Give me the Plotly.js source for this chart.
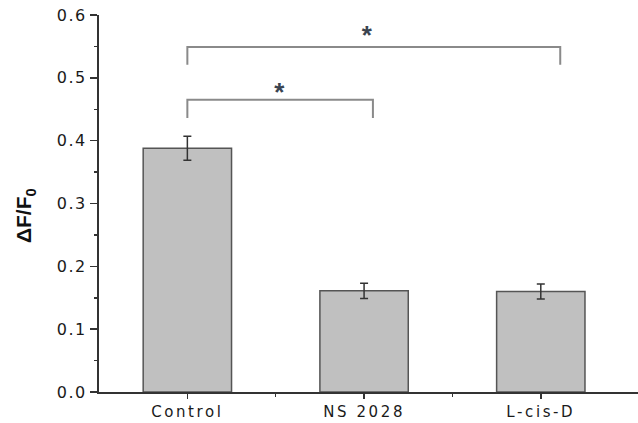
<!DOCTYPE html>
<html>
<head>
<meta charset="utf-8">
<script src="https://cdn.plot.ly/plotly-3.0.1.min.js"></script>
<style>
html,body{margin:0;padding:0;background:#fff;}
#chart{width:638px;height:423px;}
.xtick text{letter-spacing:2.6px;}
.ytick text{letter-spacing:1.5px;}
</style>
</head>
<body>
<div id="chart"></div>
<script>
const categories = ['Control', 'NS 2028', 'L-cis-D'];
const catPos = [0, 1, 2];
const values = [0.388, 0.161, 0.160];
const errors = [0.019, 0.012, 0.012];

const bracketLowX = [0, 0, 1.05, 1.05];
const bracketLowY = [0.436, 0.465, 0.465, 0.436];
const bracketHighX = [0, 0, 2.11, 2.11];
const bracketHighY = [0.521, 0.549, 0.549, 0.521];

const starX = [0.52, 1.015];
const starY = [0.474, 0.565];
const starText = ['*', '*'];

const yTickVals = [0, 0.1, 0.2, 0.3, 0.4, 0.5, 0.6];
const yTickText = ['0.0', '0.1', '0.2', '0.3', '0.4', '0.5', '0.6'];
const yTitle = '<b>ΔF/F<sub>0</sub></b>';

const tickFamily = 'DejaVu Sans, Liberation Sans, Arial, sans-serif';

const traces = [
  {
    type: 'bar', x: catPos, y: values, width: 0.5,
    marker: {color: '#c0c0c0', line: {color: '#555555', width: 1.5}},
    error_y: {type: 'data', array: errors, visible: true, color: '#333333', thickness: 1.5, width: 4},
    hoverinfo: 'skip'
  },
  {
    type: 'scatter', mode: 'lines', x: bracketLowX, y: bracketLowY,
    line: {color: '#8a8a8a', width: 2}, hoverinfo: 'skip'
  },
  {
    type: 'scatter', mode: 'lines', x: bracketHighX, y: bracketHighY,
    line: {color: '#8a8a8a', width: 2}, hoverinfo: 'skip'
  },
  {
    type: 'scatter', mode: 'text', x: starX, y: starY, text: starText,
    textposition: 'middle center',
    textfont: {family: 'Liberation Sans, Arial, sans-serif', size: 26, color: '#3a4450', weight: 'bold'},
    hoverinfo: 'skip'
  }
];

const layout = {
  width: 638, height: 423,
  margin: {l: 99, r: 0, t: 15, b: 31},
  paper_bgcolor: '#ffffff', plot_bgcolor: '#ffffff',
  showlegend: false,
  font: {family: 'Liberation Sans, Arial, sans-serif', color: '#1a1a1a'},
  xaxis: {
    range: [-0.5, 2.55],
    tickmode: 'array', tickvals: catPos, ticktext: categories,
    ticks: 'outside', ticklen: 5, tickwidth: 1.5, tickcolor: '#333',
    showline: true, linecolor: '#333', linewidth: 2,
    showgrid: false, zeroline: false,
    tickfont: {family: tickFamily, size: 15, color: '#1a1a1a'},
    minor: {tickvals: [0.5, 1.5], ticks: 'outside', ticklen: 3, tickwidth: 1.5, tickcolor: '#333', showgrid: false}
  },
  yaxis: {
    range: [0, 0.6],
    tickmode: 'array', tickvals: yTickVals, ticktext: yTickText,
    ticks: 'outside', ticklen: 7, tickwidth: 1.5, tickcolor: '#333',
    showline: true, linecolor: '#333', linewidth: 2,
    showgrid: false, zeroline: false,
    tickfont: {family: tickFamily, size: 16, color: '#1a1a1a'},
    minor: {tickvals: [0.05, 0.15, 0.25, 0.35, 0.45, 0.55], ticks: 'outside', ticklen: 3, tickwidth: 1.5, tickcolor: '#333', showgrid: false}
  },
  annotations: [{
    text: yTitle, xref: 'paper', yref: 'paper',
    x: -0.137, y: 0.467, xanchor: 'center', yanchor: 'middle',
    textangle: -90, showarrow: false,
    font: {family: 'Liberation Sans, Arial, sans-serif', size: 21, color: '#111'}
  }]
};

Plotly.newPlot('chart', traces, layout, {staticPlot: true, displayModeBar: false});
</script>
</body>
</html>
